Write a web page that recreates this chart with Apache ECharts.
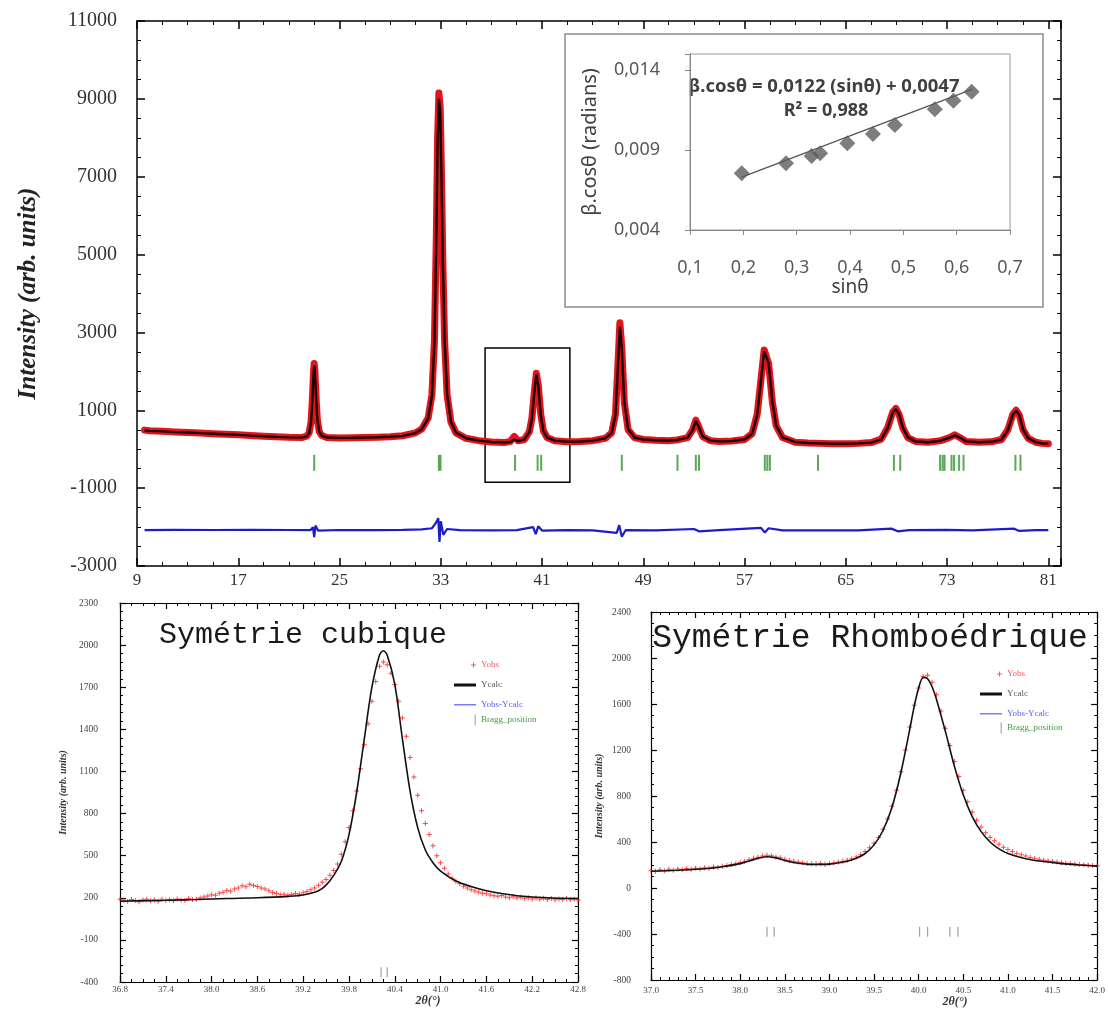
<!DOCTYPE html>
<html><head><meta charset="utf-8">
<script src="https://cdn.jsdelivr.net/npm/echarts@6/dist/echarts.min.js"></script>
<style>html,body{margin:0;padding:0;background:#fff}#c{width:1108px;height:1032px}</style>
</head><body><div id="c"></div><script>
// ---------- main pattern: [2theta, Yobs, Ycalc]
const mainPattern = [
[9.6,490,480],[10.0,475,472],[11.0,462,458],[12.0,445,440],[13.0,430,428],[14.0,415,412],[15.0,400,398],[16.0,385,384],[17.0,370,368],[18.0,352,350],[19.0,335,333],[20.0,320,318],[21.0,305,304],[22.0,300,298],
[22.4,335,330],[22.6,420,410],[22.75,700,690],[22.85,1250,1230],[22.95,2000,1980],[23.0,2200,2150],[23.05,2050,2030],[23.15,1300,1320],[23.25,750,760],[23.4,450,455],[23.6,350,348],
[24.0,300,300],[25.0,290,290],[26.0,295,294],[27.0,300,300],[28.0,310,308],[29.0,322,320],[30.0,345,342],[31.0,420,415],[31.5,520,515],[32.0,800,790],[32.3,1400,1380],[32.5,2800,2750],[32.65,5500,5450],[32.75,8000,7900],[32.85,9150,9000],[32.95,8800,8700],[33.05,7200,7100],[33.15,5000,5050],[33.3,2800,2850],[33.5,1400,1420],[33.8,700,710],[34.2,420,425],
[35.0,280,282],[36.0,220,222],[37.0,185,186],[38.0,170,172],[38.5,200,185],[38.8,330,250],[39.1,215,210],[39.6,250,248],[40.0,450,440],[40.2,800,790],[40.4,1500,1480],[40.55,1950,1920],[40.7,1650,1640],[40.9,900,880],[41.1,480,470],[41.4,300,298],
[42.0,220,220],[43.0,190,190],[44.0,200,200],[45.0,220,220],[46.0,280,278],[46.5,420,415],[46.8,900,880],[47.0,2200,2150],[47.15,3250,3150],[47.3,2600,2580],[47.5,1200,1230],[47.8,500,510],[48.3,300,302],
[49.0,250,250],[50.0,230,230],[51.0,220,220],[51.7,240,238],[52.5,300,298],[52.9,500,490],[53.15,750,730],[53.4,560,560],[53.7,320,325],[54.3,220,222],[55.0,200,200],[56.0,210,210],[57.0,250,248],
[57.6,400,395],[58.0,900,880],[58.3,1800,1780],[58.55,2550,2520],[58.7,2600,2560],[58.9,2200,2210],[59.2,1200,1220],[59.5,600,610],[60.0,300,302],[61.0,180,182],[62.0,160,160],[63.0,150,150],[64.0,140,140],[65.0,140,140],[66.0,150,150],[67.0,170,170],
[67.8,260,255],[68.3,550,540],[68.7,950,940],[68.95,1050,1030],[69.2,900,905],[69.5,550,560],[69.9,300,305],[70.5,200,200],[71.5,180,180],[72.5,220,218],[73.2,300,295],[73.6,370,360],[74.0,300,300],[74.5,200,202],[75.5,180,180],[76.5,190,190],
[77.3,250,248],[77.8,500,490],[78.2,900,890],[78.45,1000,985],[78.7,880,885],[79.0,500,510],[79.4,280,285],[80.0,180,182],[80.5,150,150],[81.0,140,140]
];
// difference curve Yobs-Ycalc (offset)
const mainDiff = [
[9.6,-2080],[12,-2070],[15,-2075],[18,-2070],[21,-2075],[22.7,-2080],[22.9,-2000],[23.0,-2260],[23.1,-1960],[23.3,-2090],[25,-2075],[28,-2080],[30,-2070],[31.5,-2060],[32.3,-2030],[32.6,-1900],[32.8,-1770],[32.9,-2380],[33.0,-1850],[33.2,-2200],[33.5,-2050],[34.5,-2080],
[37,-2085],[39,-2080],[40.3,-2000],[40.5,-2180],[40.7,-1980],[41.0,-2090],[43,-2080],[45,-2085],[46.9,-2150],[47.1,-1950],[47.3,-2250],[47.6,-2080],[50,-2085],[53,-2050],[53.4,-2110],[55,-2080],[58.3,-2020],[58.6,-2140],[58.9,-2030],[60,-2085],[63,-2085],[66,-2085],[68.6,-2040],[69.1,-2110],[70,-2080],[73,-2070],[75,-2085],[78.3,-2040],[78.7,-2100],[80,-2080],[81,-2080]
];
const braggMain = [23.0,32.85,32.98,38.87,40.65,40.93,47.3,51.7,53.15,53.4,58.6,58.8,59.0,62.8,68.8,69.3,72.45,72.65,72.8,73.35,73.55,73.95,74.3,78.4,78.8];
const braggMainLevel = -350;
const zoomBox = [[36.5,2600],[43.2,-850]];

// ---------- inset (Williamson-Hall)
const insetSin  = [0.197,0.28,0.328,0.344,0.395,0.443,0.484,0.559,0.594,0.628];
const insetBeta = [0.00754,0.00817,0.00863,0.0088,0.00942,0.0100,0.01056,0.01154,0.01208,0.01264];
const trendSin  = [0.197,0.63];
const trendBeta = [0.0073,0.0128];

// ---------- cubic refinement zoom
const cubObs = [[36.80,190],[36.85,182],[36.90,176],[36.95,188],[37.00,180],[37.05,172],[37.10,185],[37.15,190],[37.20,178],[37.25,184],[37.30,176],[37.35,189],[37.40,181],[37.45,186],[37.50,178],[37.55,192],[37.60,185],[37.65,180],[37.70,194],[37.75,187],[37.80,190],[37.85,198],[37.90,205],[37.95,212],[38.00,222],[38.05,218],[38.10,232],[38.15,240],[38.20,252],[38.25,246],[38.30,262],[38.35,270],[38.40,285],[38.45,278],[38.50,296],[38.55,288],[38.60,280],[38.65,270],[38.70,262],[38.75,250],[38.80,238],[38.85,230],[38.90,222],[38.95,226],[39.00,218],[39.05,224],[39.10,230],[39.15,226],[39.20,236],[39.25,245],[39.30,258],[39.35,270],[39.40,290],[39.45,310],[39.50,330],[39.55,360],[39.60,395],[39.65,440],[39.70,510],[39.75,600],[39.80,700],[39.85,820],[39.90,960],[39.95,1120],[40.00,1290],[40.05,1440],[40.10,1600],[40.15,1740],[40.20,1850],[40.25,1880],[40.30,1860],[40.35,1800],[40.40,1720],[40.45,1600],[40.50,1480],[40.55,1350],[40.60,1200],[40.65,1060],[40.70,930],[40.75,820],[40.80,730],[40.85,650],[40.90,570],[40.95,500],[41.00,450],[41.05,410],[41.10,370],[41.15,340],[41.20,318],[41.25,300],[41.30,282],[41.35,270],[41.40,258],[41.45,248],[41.50,240],[41.55,232],[41.60,228],[41.65,220],[41.70,214],[41.75,210],[41.80,216],[41.85,206],[41.90,200],[41.95,208],[42.00,198],[42.05,204],[42.10,196],[42.15,200],[42.20,192],[42.25,199],[42.30,190],[42.35,196],[42.40,188],[42.45,194],[42.50,186],[42.55,192],[42.60,188],[42.65,195],[42.70,186],[42.75,190],[42.80,184]];
const cubCalc = [[36.8,175],[37.0,178],[37.4,182],[37.8,188],[38.2,195],[38.6,200],[39.0,210],[39.2,220],[39.4,250],[39.5,290],[39.6,360],[39.7,460],[39.8,650],[39.9,950],[40.0,1330],[40.1,1700],[40.2,1930],[40.25,1960],[40.3,1930],[40.4,1720],[40.5,1330],[40.6,960],[40.7,700],[40.8,540],[40.9,450],[41.0,390],[41.2,320],[41.4,280],[41.6,250],[41.8,230],[42.0,215],[42.4,200],[42.8,195]];
const braggCub = [40.22,40.30];
const braggCubLevel = -330;

// ---------- rhombohedral refinement zoom
const rhoObs = [[37.00,150],[37.05,145],[37.10,158],[37.15,150],[37.20,162],[37.25,155],[37.30,165],[37.35,158],[37.40,170],[37.45,162],[37.50,172],[37.55,168],[37.60,176],[37.65,170],[37.70,182],[37.75,178],[37.80,190],[37.85,196],[37.90,205],[37.95,210],[38.00,222],[38.05,232],[38.10,245],[38.15,258],[38.20,268],[38.25,278],[38.30,285],[38.35,280],[38.40,270],[38.45,262],[38.50,250],[38.55,240],[38.60,232],[38.65,226],[38.70,220],[38.75,214],[38.80,210],[38.85,208],[38.90,212],[38.95,206],[39.00,214],[39.05,220],[39.10,226],[39.15,232],[39.20,242],[39.25,255],[39.30,270],[39.35,290],[39.40,318],[39.45,350],[39.50,390],[39.55,440],[39.60,510],[39.65,600],[39.70,710],[39.75,850],[39.80,1010],[39.85,1200],[39.90,1400],[39.95,1590],[40.00,1740],[40.05,1840],[40.10,1850],[40.15,1790],[40.20,1680],[40.25,1540],[40.30,1390],[40.35,1240],[40.40,1100],[40.45,970],[40.50,850],[40.55,750],[40.60,660],[40.65,590],[40.70,530],[40.75,480],[40.80,440],[40.85,410],[40.90,380],[40.95,355],[41.00,335],[41.05,318],[41.10,300],[41.15,290],[41.20,278],[41.25,266],[41.30,258],[41.35,250],[41.40,242],[41.45,236],[41.50,230],[41.55,226],[41.60,220],[41.65,216],[41.70,212],[41.75,208],[41.80,205],[41.85,202],[41.90,198],[41.95,196],[42.00,194]];
const rhoCalc = [[37.0,145],[37.3,155],[37.6,168],[37.8,185],[38.0,212],[38.1,235],[38.2,258],[38.3,272],[38.4,262],[38.5,240],[38.6,222],[38.8,205],[39.0,208],[39.2,232],[39.3,258],[39.4,300],[39.5,375],[39.6,500],[39.7,700],[39.8,1000],[39.9,1380],[39.95,1580],[40.0,1740],[40.05,1830],[40.1,1820],[40.15,1750],[40.2,1640],[40.3,1360],[40.4,1060],[40.5,810],[40.6,620],[40.7,490],[40.8,400],[40.9,340],[41.0,300],[41.2,255],[41.4,230],[41.6,212],[41.8,200],[42.0,190]];
const braggRho = [38.30,38.38,40.01,40.10,40.35,40.44];
const braggRhoLevel = -380;

// ---------- tick settings
const mainX = {min:9, max:82, interval:8, lastLabel:81};
const mainY = {min:-3000, max:11000, interval:2000};
const insetX = {min:0.1, max:0.7, interval:0.1};
const insetY = {min:0.004, max:0.015, interval:0.005, lastLabel:0.014};
const cubX = {min:36.8, max:42.8, interval:0.6};
const cubY = {min:-400, max:2300, interval:300};
const rhoX = {min:37, max:42, interval:0.5};
const rhoY = {min:-800, max:2400, interval:400};

// ---------- build
const SERIF = '"Liberation Serif","DejaVu Serif",serif';
const SANS = '"Noto Sans","Liberation Sans",sans-serif';
const PLUS = 'path://M4,0H6V4H10V6H6V10H4V6H0V4H4Z';
const plain = v => String(Math.round(v));

function frame(gridIndex, pos, sc, o) {
  o = o || {};
  const a = {
    type:'value', gridIndex, position:pos, min:sc.min, max:sc.max, interval:sc.interval,
    axisLine:{show:true, onZero:false, lineStyle:{color:'#000', width:o.lw||1.3}},
    axisTick:{show:true, inside:true, length:o.tl||7, lineStyle:{color:'#000', width:o.lw||1.3}},
    minorTick:{show:true, splitNumber:o.ms||4, length:o.ml||4, lineStyle:{color:'#000', width:1}},
    splitLine:{show:false},
    axisLabel:{show:!!o.label, margin:o.margin||8, fontFamily:o.ff||SERIF, fontSize:o.fs||16, color:o.lc||'#333', formatter:o.fmt||plain}
  };
  if (o.name) {
    a.name = o.name; a.nameLocation='middle'; a.nameGap=o.nameGap;
    a.nameTextStyle = o.nameStyle;
  }
  return a;
}
function pairs(xs, ys){ return xs.map((x,i)=>[x, ys[i]]); }

const xAxis = [
  frame(0,'bottom',mainX,{label:true, fs:17, margin:6, lw:1.5, tl:8, ms:4, fmt:v=> v>mainX.lastLabel+0.01 ? '' : plain(v)}),
  frame(0,'top',mainX,{lw:1.5, tl:8, ms:4}),
  { type:'value', gridIndex:1, min:insetX.min, max:insetX.max, interval:insetX.interval,
    axisLine:{onZero:false, lineStyle:{color:'#868686', width:1}}, axisTick:{inside:false, length:5, lineStyle:{color:'#868686'}},
    splitLine:{show:false},
    axisLabel:{margin:29, fontFamily:SANS, fontSize:18, color:'#595959', formatter:v=>v.toFixed(1).replace('.',',')},
    name:'sinθ', nameLocation:'middle', nameGap:46, nameTextStyle:{fontFamily:SANS, fontSize:19, color:'#404040'} },
  frame(2,'bottom',cubX,{label:true, fs:9, margin:3, lc:'#444', lw:1.2, tl:6, ml:3, ms:4, fmt:v=>v.toFixed(1),
        name:'2θ(°)', nameGap:13, nameStyle:{fontFamily:SERIF, fontStyle:'italic', fontWeight:'bold', fontSize:12, color:'#333', padding:[0,0,0,158]}}),
  frame(2,'top',cubX,{lw:1.2, tl:6, ml:3, ms:4}),
  frame(3,'bottom',rhoX,{label:true, fs:9, margin:6, lc:'#444', lw:1.2, tl:6, ml:3, ms:5, fmt:v=>v.toFixed(1),
        name:'2θ(°)', nameGap:14, nameStyle:{fontFamily:SERIF, fontStyle:'italic', fontWeight:'bold', fontSize:12, color:'#333', padding:[0,0,0,162]}}),
  frame(3,'top',rhoX,{lw:1.2, tl:6, ml:3, ms:5})
];
const yAxis = [
  frame(0,'left',mainY,{label:true, fs:20, margin:20, lw:1.5, tl:8, ms:4,
        name:'Intensity (arb. units)', nameGap:96, nameStyle:{fontFamily:SERIF, fontStyle:'italic', fontWeight:'bold', fontSize:25, color:'#222'}}),
  frame(0,'right',mainY,{lw:1.5, tl:8, ms:4}),
  { type:'value', gridIndex:1, min:insetY.min, max:insetY.max, interval:insetY.interval,
    axisLine:{show:true, onZero:false, lineStyle:{color:'#868686', width:1}}, axisTick:{show:true, inside:false, length:5, lineStyle:{color:'#868686'}},
    splitLine:{show:false},
    axisLabel:{margin:30, fontFamily:SANS, fontSize:18, color:'#595959', formatter:v=> v>insetY.lastLabel+0.0005 ? '' : v.toFixed(3).replace('.',',')},
    name:'β.cosθ (radians)', nameLocation:'middle', nameGap:90, nameTextStyle:{fontFamily:SANS, fontSize:20, color:'#404040'} },
  frame(2,'left',cubY,{label:true, fs:9.5, margin:22, lc:'#444', lw:1.2, tl:6, ml:3, ms:5,
        name:'Intensity (arb. units)', nameGap:52, nameStyle:{fontFamily:SERIF, fontStyle:'italic', fontWeight:'bold', fontSize:10, color:'#333'}}),
  frame(2,'right',cubY,{lw:1.2, tl:6, ml:3, ms:5}),
  frame(3,'left',rhoY,{label:true, fs:9.5, margin:20, lc:'#444', lw:1.2, tl:6, ml:3, ms:4,
        name:'Intensity (arb. units)', nameGap:47, nameStyle:{fontFamily:SERIF, fontStyle:'italic', fontWeight:'bold', fontSize:10, color:'#333'}}),
  frame(3,'right',rhoY,{lw:1.2, tl:6, ml:3, ms:4})
];

function bottomSeries(xi, yi, obs, calc, bragg, level) {
  return [
    {name:'Yobs', type:'scatter', xAxisIndex:xi, yAxisIndex:yi, data:obs, symbol:PLUS, symbolSize:5,
     itemStyle:{color:'#ff1a1a'}, z:3, silent:true},
    {name:'Ycalc', type:'line', xAxisIndex:xi, yAxisIndex:yi, data:calc, showSymbol:false, smooth:0.3,
     lineStyle:{color:'#111', width:1.6}, itemStyle:{color:'#111'}, z:4, silent:true},
    {name:'Yobs-Ycalc', type:'line', xAxisIndex:xi, yAxisIndex:yi, data:[], showSymbol:false,
     lineStyle:{color:'#5a5aff', width:1}, itemStyle:{color:'#5a5aff'}},
    {name:'Bragg_position', type:'scatter', xAxisIndex:xi, yAxisIndex:yi, data:bragg.map(t=>[t, level]),
     symbol:'rect', symbolSize:[1.2,10], itemStyle:{color:'#8a8a8a'}, silent:true}
  ];
}

const series = [
  {name:'mainObs', type:'line', xAxisIndex:0, yAxisIndex:0, data:mainPattern.map(r=>[r[0],r[1]]), showSymbol:false,
   lineStyle:{color:'#e3141c', width:7, join:'round', cap:'round'}, z:2, silent:true},
  {name:'mainCalc', type:'line', xAxisIndex:0, yAxisIndex:0, data:mainPattern.map(r=>[r[0],r[2]]), showSymbol:false,
   lineStyle:{color:'#1a0000', width:2.4}, z:3, silent:true},
  {name:'mainDiff', type:'line', xAxisIndex:0, yAxisIndex:0, data:mainDiff, showSymbol:false,
   lineStyle:{color:'#1c1ccc', width:2.2}, z:2, silent:true},
  {name:'mainBragg', type:'scatter', xAxisIndex:0, yAxisIndex:0, data:braggMain.map(t=>[t, braggMainLevel]),
   symbol:'rect', symbolSize:[2,16], itemStyle:{color:'#2f932f'}, silent:true,
   markArea:{silent:true, itemStyle:{color:'rgba(0,0,0,0)', borderColor:'#000', borderWidth:1.5},
     data:[[{coord:zoomBox[0]},{coord:zoomBox[1]}]]}},
  {name:'wh', type:'scatter', xAxisIndex:2, yAxisIndex:2, data:pairs(insetSin, insetBeta), symbol:'diamond', symbolSize:16,
   itemStyle:{color:'#5c5c5c'}, z:4, silent:true},
  {name:'whFit', type:'line', xAxisIndex:2, yAxisIndex:2, data:pairs(trendSin, trendBeta), showSymbol:false,
   lineStyle:{color:'#555', width:1.3}, z:3, silent:true},
  ...bottomSeries(3,3,cubObs,cubCalc,braggCub,braggCubLevel),
  ...bottomSeries(5,5,rhoObs,rhoCalc,braggRho,braggRhoLevel)
];

function leg(name, icon, w, h, color, textColor, textX, rowY) {
  return {data:[{name, icon, itemStyle:{color, borderWidth:0}}], left:textX - w - 8, top:rowY - h/2,
    itemWidth:w, itemHeight:h, itemGap:0, padding:0, selectedMode:false,
    textStyle:{color:textColor, fontSize:9, fontFamily:SERIF}};
}
const legend = [
  leg('Yobs', PLUS, 5, 5, '#ff3030', '#ff5a5a', 484, 663),
  leg('Ycalc', 'rect', 22, 3, '#111', '#555', 484, 682),
  leg('Yobs-Ycalc', 'rect', 22, 1.5, '#7a7aff', '#5a5aff', 484, 701),
  leg('Bragg_position', 'rect', 1.5, 11, '#aaa', '#4a9a4a', 484, 720),
  leg('Yobs', PLUS, 5, 5, '#ff3030', '#ff5a5a', 1010, 672),
  leg('Ycalc', 'rect', 22, 3, '#111', '#555', 1010, 691),
  leg('Yobs-Ycalc', 'rect', 22, 1.5, '#7a7aff', '#5a5aff', 1010, 710),
  leg('Bragg_position', 'rect', 1.5, 11, '#aaa', '#4a9a4a', 1010, 728)
];

const option = {
  animation:false,
  backgroundColor:'#fff',
  grid:[
    {left:137, top:21, width:924, height:545},
    {left:690, top:54, width:320, height:176, show:true, borderColor:'#9a9a9a', borderWidth:1},
    {left:120, top:603, width:458, height:379},
    {left:651, top:612, width:449, height:368}
  ],
  xAxis, yAxis, series, legend,
  graphic:[
    {type:'rect', shape:{x:565, y:34, width:478, height:273}, style:{fill:'none', stroke:'#8c8c8c', lineWidth:1.5}, silent:true},
    {type:'text', x:824, y:87, style:{text:'β.cosθ = 0,0122 (sinθ) + 0,0047', font:'bold 18.5px "Noto Sans"', fill:'#404040', align:'center', verticalAlign:'middle'}},
    {type:'text', x:826, y:111, style:{text:'R² = 0,988', font:'bold 18px "Noto Sans"', fill:'#404040', align:'center', verticalAlign:'middle'}},
    {type:'text', x:303, y:635, style:{text:'Symétrie cubique', font:'30px "Liberation Mono"', fill:'#1a1a1a', align:'center', verticalAlign:'middle'}},
    {type:'text', x:870, y:638, style:{text:'Symétrie Rhomboédrique', font:'33px "Liberation Mono"', fill:'#1a1a1a', align:'center', verticalAlign:'middle'}}
  ]
};
const chart = echarts.init(document.getElementById('c'));
chart.setOption(option);
</script></body></html>
